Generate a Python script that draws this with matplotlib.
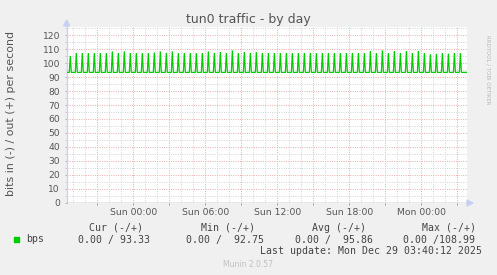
import matplotlib
matplotlib.use('Agg')
import matplotlib.pyplot as plt
import matplotlib.dates as mdates
from matplotlib.patches import Polygon, Rectangle
import pandas as pd

# tun0 out traffic (bits/s), peaks every half hour
peak_vals = [105.0, 107.1, 107.1, 107.1, 107.1, 107.1, 107.1, 108.3, 107.1, 108.3,
             107.1, 107.1, 107.1, 107.1, 107.5, 108.3, 107.1, 108.3, 107.1, 107.1,
             107.1, 107.1, 107.1, 108.3, 107.1, 107.8, 107.1, 109.0, 107.1, 107.8,
             107.1, 107.8, 107.1, 107.1, 107.1, 107.1, 107.1, 107.1, 107.1, 107.1,
             107.1, 107.1, 107.1, 107.1, 107.1, 107.1, 107.1, 107.1, 107.1, 107.1,
             108.5, 107.1, 109.0, 107.1, 108.5, 107.1, 108.5, 107.1, 108.5, 107.1,
             106.2, 106.5, 107.1, 106.7, 107.1, 107.1]
base_val = 93.3
cur_val = 93.33
first_peak = '2025-12-27 18:45'
view_start = '2025-12-27 18:27'
view_end = '2025-12-29 03:48'

col_heads = ['Cur (-/+)', 'Min (-/+)', 'Avg (-/+)', 'Max (-/+)']
col_vals = ['0.00 / 93.33', '0.00 /  92.75', '0.00 /  95.86', '0.00 /108.99']
last_update = 'Last update: Mon Dec 29 03:40:12 2025'

W, H = 497, 275
BG = '#F0F0F0'
GREEN = '#00CC00'
GRID = '#D6D6D6'
MGRID = '#EBB0B0'
AXIS = '#C8D0F2'
TXT = '#555555'


def px(x, y):
    return (x / W, 1 - y / H)


fig = plt.figure(figsize=(W / 100, H / 100), dpi=100, facecolor=BG)
l, t, r, b = 66.7, 26.5, 467.0, 203.0
ax = fig.add_axes([l / W, 1 - b / H, (r - l) / W, (b - t) / H])
ax.set_facecolor('white')

# build the line from the peaks
peak_t = pd.date_range(first_peak, periods=len(peak_vals), freq='30min')
step = pd.Timedelta('5min')
xs = [pd.Timestamp(view_start)]
ys = [base_val]
for pt, v in zip(peak_t, peak_vals):
    xs += [pt - step, pt, pt + step]
    ys += [base_val, v, base_val]
xs.append(pd.Timestamp(view_end))
ys.append(cur_val)

x0, x1 = pd.Timestamp(view_start), pd.Timestamp(view_end)
ax.set_xlim(x0, x1)
ax.set_ylim(0, (b - t) / 1.4)

# grid
for h in pd.date_range('2025-12-27 19:00', '2025-12-29 03:00', freq='1h'):
    c = MGRID if h.hour % 3 == 0 else GRID
    ax.axvline(h, color=c, lw=0.72, ls=(0, (1, 1.3)), zorder=1)
for v in range(5, 126, 5):
    c = MGRID if v % 10 == 0 else GRID
    ax.axhline(v, color=c, lw=0.72, ls=(0, (1, 1.3)), zorder=1)

ax.plot(xs, ys, color=GREEN, lw=0.9, zorder=3, solid_joinstyle='miter')
ax.axhline(0, color='#50506A', lw=0.9, zorder=4)

for s in ax.spines.values():
    s.set_visible(False)
ax.spines['left'].set_visible(True)
ax.spines['left'].set_color(AXIS)
ax.spines['left'].set_linewidth(0.9)

ax.set_yticks(range(0, 121, 10))
ax.set_yticks(range(5, 126, 5), minor=True)
ax.xaxis.set_major_locator(mdates.HourLocator(byhour=range(0, 24, 3)))
ax.xaxis.set_minor_locator(mdates.HourLocator())
ax.xaxis.set_major_formatter(
    plt.FuncFormatter(lambda v, p: mdates.num2date(v).strftime('%a %H:%M')
                      if mdates.num2date(v).hour % 6 == 0 else ''))
ax.tick_params(axis='y', which='major', length=1.5, width=0.7, color='#B0B0B0',
               labelsize=6.6, labelcolor=TXT, pad=3.3)
ax.tick_params(axis='y', which='minor', length=1.5, width=0.7, color='#D0D0D0')
ax.tick_params(axis='x', which='major', length=1.7, width=0.7, color='#E08080',
               labelsize=6.7, labelcolor=TXT, pad=2.2)
ax.tick_params(axis='x', which='minor', length=0)

# axis arrows
fig.patches.append(Polygon([px(l - 3, t - 0.5), px(l + 3, t - 0.5), px(l, t - 6.5)],
                           closed=True, transform=fig.transFigure, color=AXIS))
fig.patches.append(Polygon([px(r, b - 3), px(r, b + 3), px(r + 6, b)],
                           closed=True, transform=fig.transFigure, color=AXIS))

fig.text(*px(248.5, 20), 'tun0 traffic - by day', ha='center', va='center',
         fontsize=9, color=TXT)
fig.text(*px(11, 114), 'bits in (-) / out (+) per second', rotation=90,
         ha='center', va='center', fontsize=7.9, color=TXT)
fig.text(*px(488, 70), 'RRDTOOL / TOBI OETIKER', rotation=270,
         ha='center', va='center', fontsize=4, color='#B8B8B8')

# legend
mono = 'DejaVu Sans Mono'
head_x = [89.0, 201.0, 312.0, 422.5]
val_x = [78.0, 186.0, 295.0, 403.0]
for hx, hd in zip(head_x, col_heads):
    fig.text(*px(hx, 228), hd, family=mono, fontsize=7.15, color='#444444',
             ha='left', va='center')
for vx, vt in zip(val_x, col_vals):
    fig.text(*px(vx, 239.5), vt, family=mono, fontsize=7.15, color='#444444',
             ha='left', va='center')
fig.patches.append(Rectangle(px(14, 241.7), 5 / W, 5 / H,
                             transform=fig.transFigure, color=GREEN))
fig.text(*px(26.5, 239.5), 'bps', family=mono, fontsize=7.15, color='#444444',
         ha='left', va='center')
fig.text(*px(482.5, 251.5), last_update, family=mono, fontsize=7.15,
         color='#444444', ha='right', va='center')
fig.text(*px(248, 264.5), 'Munin 2.0.57', ha='center', va='center',
         fontsize=5.5, color='#C0C0C0')

fig.savefig('out.png', dpi=100, facecolor=BG)
